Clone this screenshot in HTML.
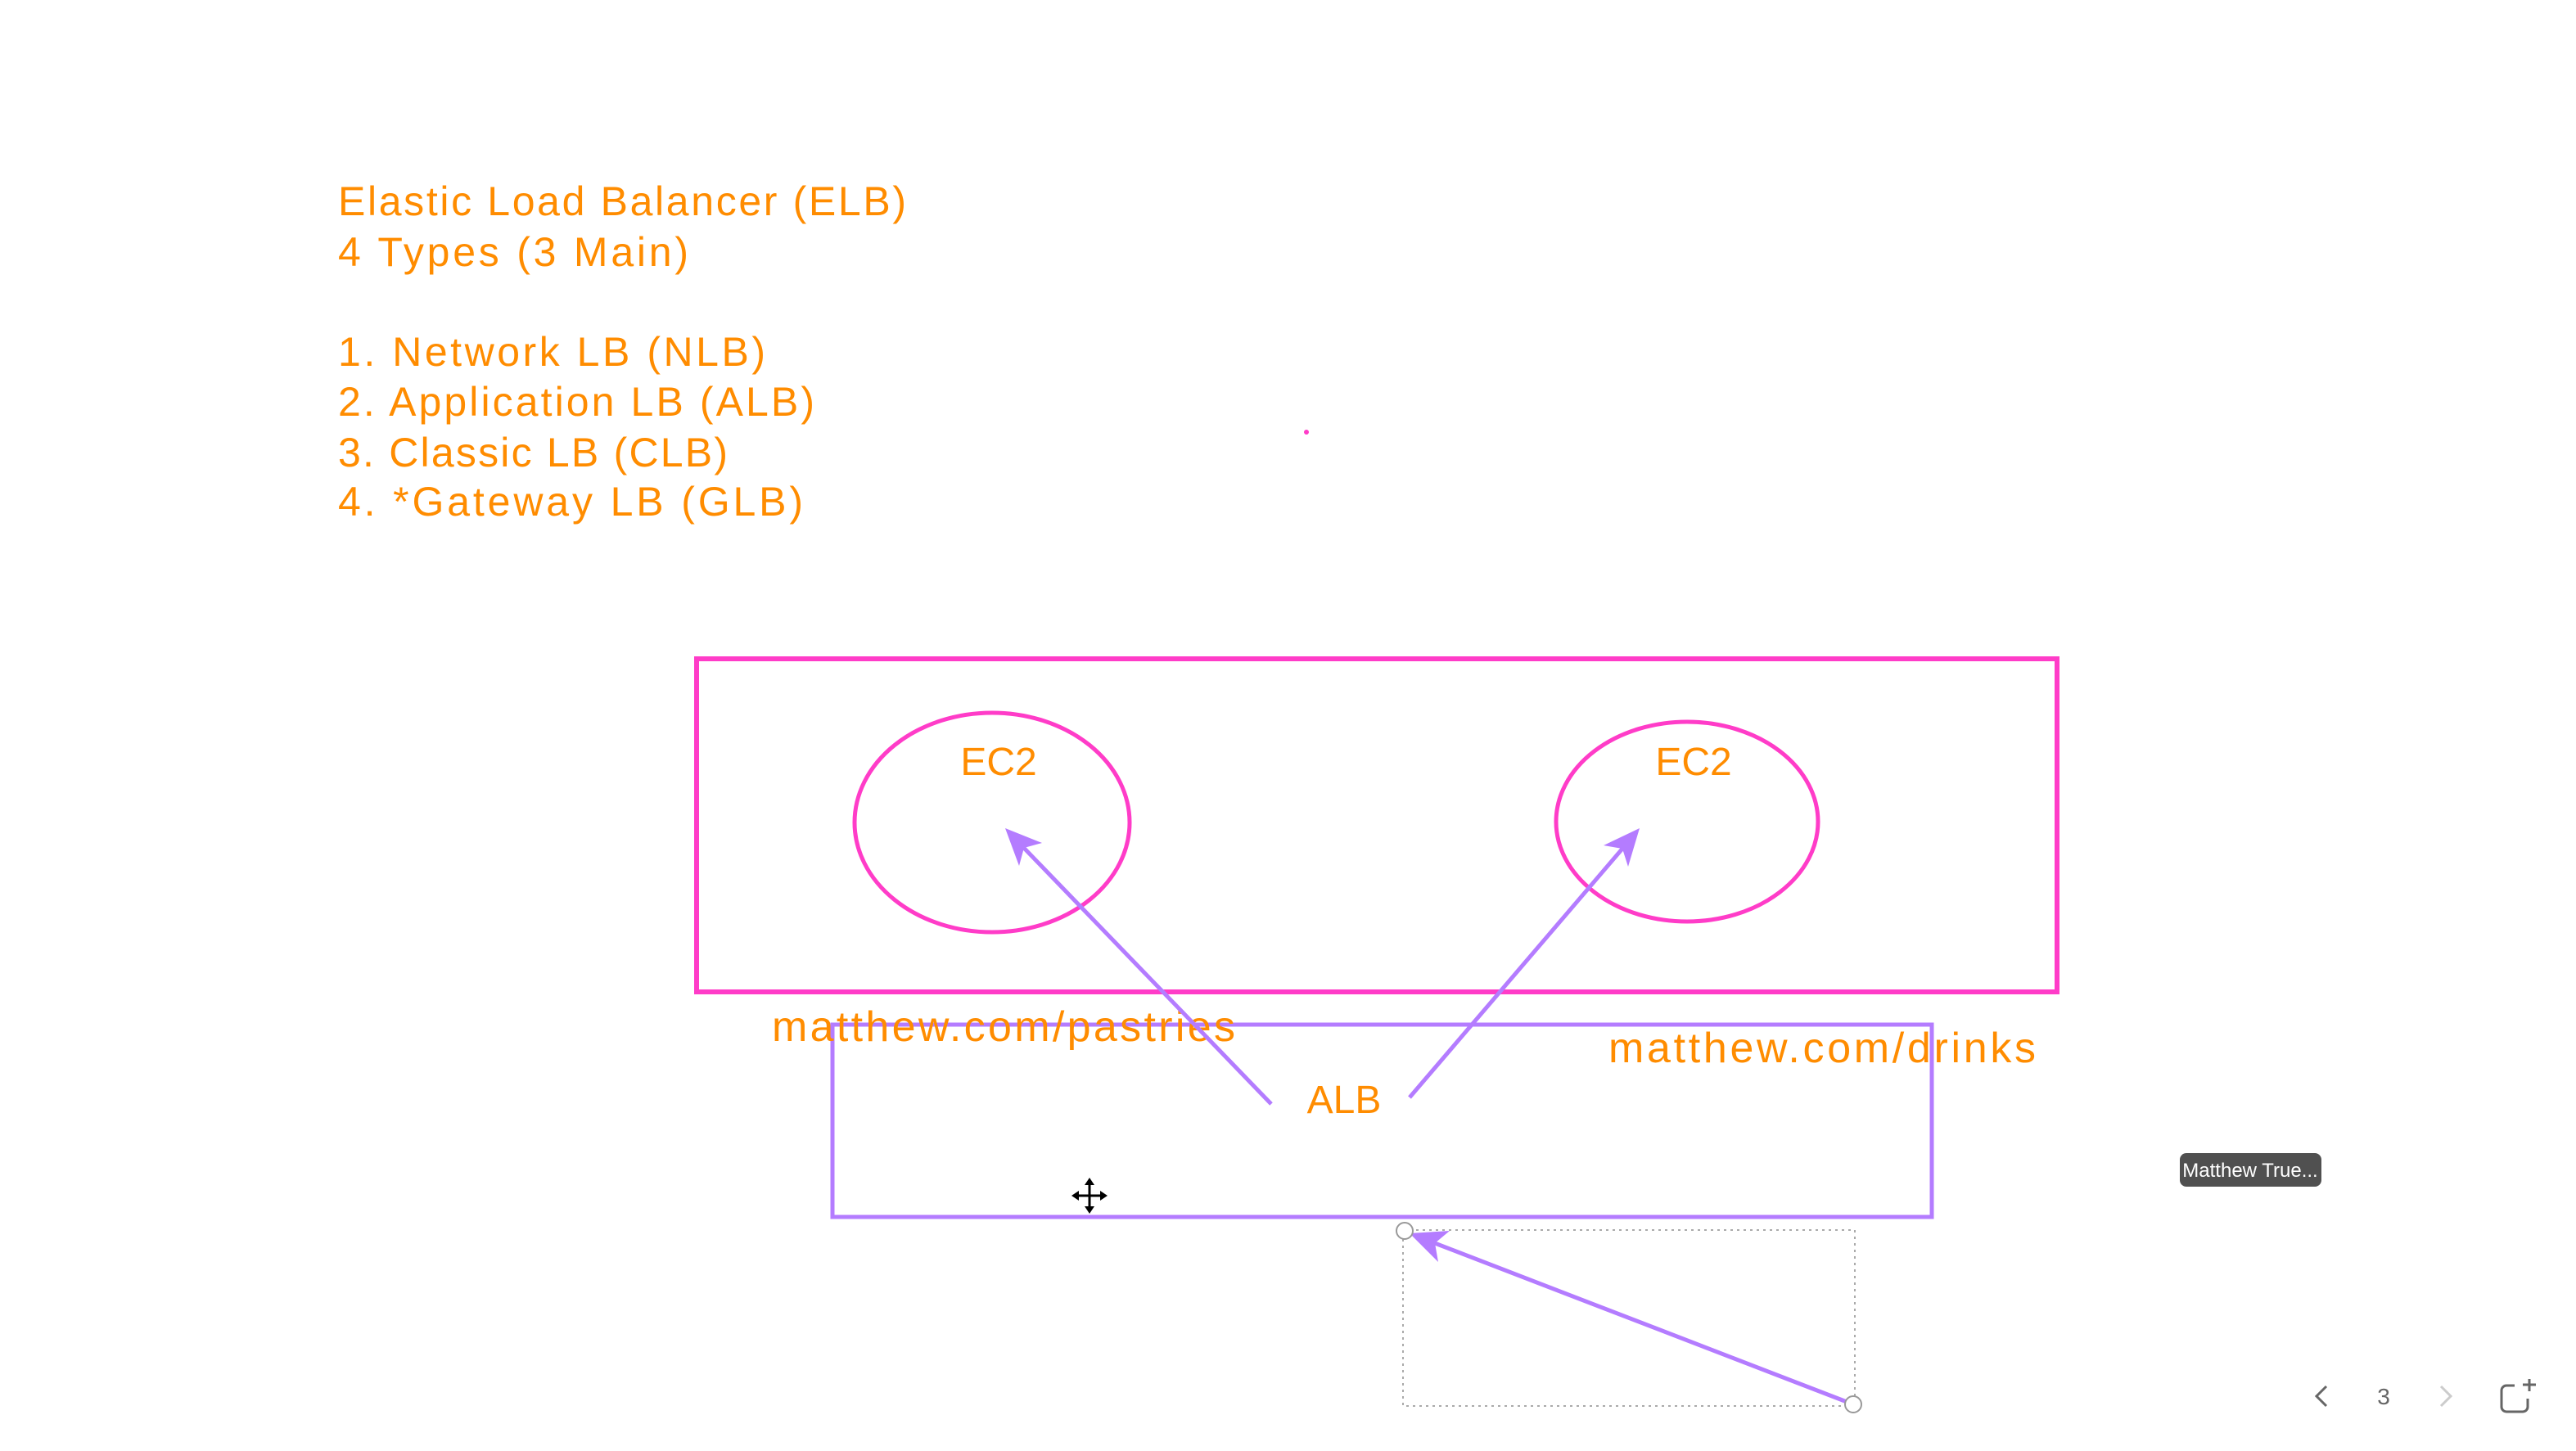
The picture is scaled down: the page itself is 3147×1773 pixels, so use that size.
<!DOCTYPE html>
<html><head><meta charset="utf-8"><style>
html,body{margin:0;padding:0;background:#fff;}
svg{display:block;}
</style></head><body>
<svg width="3147" height="1773" viewBox="0 0 3147 1773" xmlns="http://www.w3.org/2000/svg" font-family="Liberation Sans, sans-serif">
<g fill="#ff8c00" font-size="50">
<text x="413" y="263" textLength="694">Elastic Load Balancer (ELB)</text>
<text x="413" y="325" textLength="428">4 Types (3 Main)</text>
<text x="413" y="447" textLength="522">1. Network LB (NLB)</text>
<text x="413" y="508" textLength="582">2. Application LB (ALB)</text>
<text x="413" y="570" textLength="476">3. Classic LB (CLB)</text>
<text x="413" y="630" textLength="568">4. *Gateway LB (GLB)</text>
</g>
<circle cx="1596" cy="528" r="3" fill="#ff3cc8"/>
<rect x="851" y="805" width="1662" height="407" fill="none" stroke="#ff3cc8" stroke-width="6"/>
<ellipse cx="1212" cy="1005" rx="168" ry="134" fill="none" stroke="#ff3cc8" stroke-width="5"/>
<ellipse cx="2061" cy="1004" rx="160" ry="122" fill="none" stroke="#ff3cc8" stroke-width="5"/>
<g fill="#ff8c00" font-size="48" text-anchor="middle">
<text x="1220" y="947">EC2</text>
<text x="2069" y="947">EC2</text>
<text x="1642" y="1360">ALB</text>
</g>
<rect x="1017" y="1252" width="1343" height="235" fill="none" stroke="#b47cff" stroke-width="5"/>
<g fill="#ff8c00" font-size="52">
<text x="943" y="1272" textLength="566">matthew.com/pastries</text>
<text x="1965" y="1298" textLength="522">matthew.com/drinks</text>
</g>
<g stroke="#b47cff" stroke-width="5" fill="none">
<line x1="1553" y1="1349" x2="1245" y2="1030"/>
<line x1="1722" y1="1341" x2="1988" y2="1030"/>
<line x1="2264" y1="1716" x2="1745" y2="1516"/>
</g>
<g fill="#b47cff">
<polygon points="1228,1012 1273,1030 1251,1036 1245,1058"/>
<polygon points="2003,1012 1989,1059 1982,1037 1959,1033"/>
<polygon points="1722,1507 1771,1504 1753,1519 1757,1542"/>
</g>
<rect x="1714" y="1503" width="552" height="215" fill="none" stroke="#aaa" stroke-width="2" stroke-dasharray="3,5"/>
<circle cx="1716" cy="1504" r="10" fill="#fff" stroke="#999" stroke-width="2"/>
<circle cx="2264" cy="1716" r="10" fill="#fff" stroke="#999" stroke-width="2"/>
<g transform="translate(1331,1461)" stroke="#000" stroke-width="3" fill="#000">
<line x1="-16" y1="0" x2="16" y2="0"/><line x1="0" y1="-16" x2="0" y2="16"/>
<path d="M0,-22 L-6,-13 L6,-13Z M0,22 L-6,13 L6,13Z M-22,0 L-13,-6 L-13,6Z M22,0 L13,-6 L13,6Z" stroke="none"/>
</g>
<rect x="2663" y="1409" width="173" height="41" rx="8" fill="#505050"/>
<text x="2749" y="1438" font-size="24" fill="#fff" text-anchor="middle">Matthew True...</text>
<g stroke="#666" stroke-width="3" fill="none">
<polyline points="2842,1694 2830,1706 2842,1718"/>
<polyline points="2982,1694 2994,1706 2982,1718" stroke="#ccc"/>
<path d="M3072,1693 h-10 a6,6 0 0 0 -6,6 v20 a6,6 0 0 0 6,6 h20 a6,6 0 0 0 6,-6 v-10"/>
<line x1="3090" y1="1685" x2="3090" y2="1700"/><line x1="3082" y1="1692" x2="3098" y2="1692"/>
</g>
<text x="2912" y="1716" font-size="28" fill="#666" text-anchor="middle">3</text>
</svg>
</body></html>
